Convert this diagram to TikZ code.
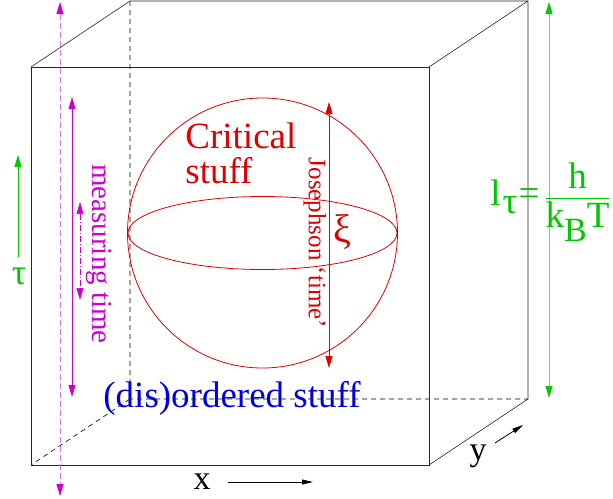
\documentclass[tikz,border=0pt]{standalone}
\usepackage{amsmath}
\usepackage{fontspec}
\setmainfont{Liberation Serif}[Ligatures=TeX]
\usetikzlibrary{arrows.meta}
\definecolor{magline}{RGB}{204,0,204}
\definecolor{maglight}{RGB}{215,120,215}
\definecolor{grnline}{RGB}{0,200,0}
\definecolor{grnlight}{RGB}{110,215,110}
\definecolor{redline}{RGB}{220,0,0}
\definecolor{blueline}{RGB}{0,0,220}
\newcommand{\bigtext}{\rmfamily\fontsize{37}{35}\selectfont}

\begin{document}
\begin{tikzpicture}[x=1pt,y=-1pt,line width=0.8pt,every node/.style={inner sep=0pt,font=\rmfamily},
  onetip/.style={-{Triangle[length=12pt,width=7pt,color=#1]}},
  twotip/.style={{Triangle[length=12pt,width=7pt,color=#1]}-{Triangle[length=12pt,width=7pt,color=#1]}},
  smalltip/.style={-{Triangle[length=11pt,width=5pt]}},
  hidden/.style={black,line width=0.6pt,dash pattern=on 5pt off 4pt},
  boxedge/.style={black!85,line width=0.6pt}]
\useasboundingbox (0,0) rectangle (613,498);
% corners of the box, front and back face
\coordinate (ftl) at (31,67);  \coordinate (ftr) at (429,67);
\coordinate (fbl) at (31,465); \coordinate (fbr) at (429,465);
\coordinate (btl) at (130,1);  \coordinate (btr) at (528,1);
\coordinate (bbl) at (130,399);\coordinate (bbr) at (528,399);
\draw[hidden] (btl) -- (bbl) -- (bbr) (bbl) -- (fbl);
\draw[boxedge] (ftl) rectangle (fbr);
\draw[boxedge] (ftl) -- (btl) -- (btr) -- (bbr) -- (fbr) (ftr) -- (btr);
% critical sphere
\coordinate (ctr) at (262.5,233);
\draw[redline] (ctr) circle[radius=135];
\draw[redline] (ctr) ellipse[x radius=134.5,y radius=36.5];
\node[redline,font=\bigtext,align=left,anchor=base west] (crit) at (185,183) {Critical\\stuff};
\coordinate (jtop) at (329,102); \coordinate (jbot) at (329,368);
\draw[redline,twotip=redline] (jtop) -- (jbot);
\node[redline,font=\rmfamily\fontsize{25}{26}\selectfont,rotate=-90] (jos) at (315,243) {Josephson `time'};
\node[redline,font=\rmfamily\fontsize{40}{40}\selectfont] (xi) at (342,232) {ξ};
\node[blueline,font=\bigtext,anchor=base west] (dis) at (103,407) {(dis)ordered stuff};
% measuring time arrows
\coordinate (mtop) at (60,2);   \coordinate (mbot) at (60,496);
\coordinate (stop) at (72,97);  \coordinate (sbot) at (72,397);
\coordinate (dtop) at (80,202); \coordinate (dbot) at (80,300);
\draw[maglight,dash pattern=on 6pt off 3pt,twotip=magline] (mtop) -- (mbot);
\draw[magline,twotip=magline] (stop) -- (sbot);
\draw[magline,line width=0.6pt,dash pattern=on 6pt off 2pt on 1pt off 2pt,twotip=magline] (dtop) -- (dbot);
\node[magline,font=\rmfamily\fontsize{29}{30}\selectfont,rotate=-90] (meas) at (99,254) {measuring time};
% imaginary time axis
\coordinate (ttop) at (18,155); \coordinate (tbot) at (18,257);
\draw[grnline,onetip=grnline] (tbot) -- (ttop);
\node[grnline,font=\rmfamily\fontsize{36}{36}\selectfont] (tau) at (19,276) {τ};
\coordinate (ltop) at (549,2); \coordinate (lbot) at (549,398);
\draw[grnlight,twotip=grnline] (ltop) -- (lbot);
\node[grnline,font=\bigtext,anchor=base west] (ltau) at (490,205)
  {l\kern2pt\raisebox{-8pt}{τ}\kern1pt=\kern5pt$\dfrac{\text{\bigtext h}}{\text{\bigtext k\raisebox{-14pt}{\fontsize{34}{34}\selectfont B}T}}$};
% space axes
\node[font=\rmfamily\fontsize{34}{34}\selectfont] (xlab) at (202,482) {x};
\coordinate (xa) at (228,482); \coordinate (xb) at (313,482);
\draw[smalltip] (xa) -- (xb);
\node[font=\rmfamily\fontsize{34}{34}\selectfont] (ylab) at (478,456) {y};
\coordinate (ya) at (495,443); \coordinate (yb) at (523,425);
\draw[smalltip] (ya) -- (yb);
\end{tikzpicture}
\end{document}
